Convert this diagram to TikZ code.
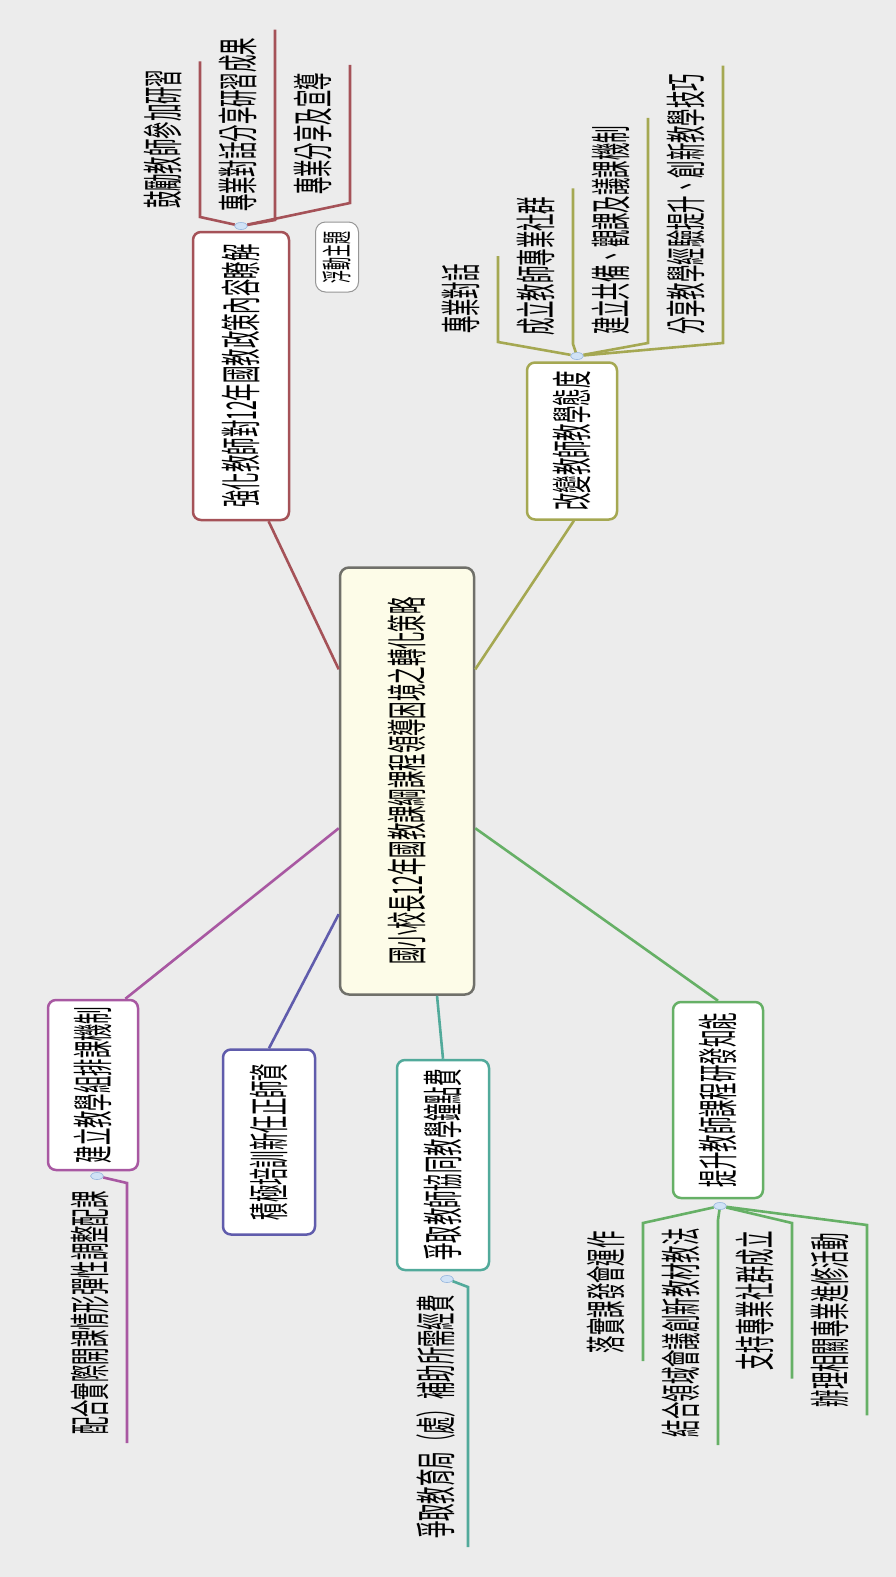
\documentclass[tikz,border=0pt]{standalone}
\usepackage{graphicx}
\usepackage{fontspec}
\setmainfont{Noto Sans CJK TC}
\usetikzlibrary{calc,shapes.geometric}

\definecolor{bgcol}{RGB}{236,236,236}
\definecolor{rootline}{RGB}{112,112,106}
\definecolor{rootfill}{RGB}{253,252,232}
\definecolor{redbr}{RGB}{165,82,88}
\definecolor{olivebr}{RGB}{165,168,82}
\definecolor{purplebr}{RGB}{168,88,162}
\definecolor{bluebr}{RGB}{96,92,172}
\definecolor{tealbr}{RGB}{82,170,155}
\definecolor{greenbr}{RGB}{102,176,102}
\definecolor{knobfill}{RGB}{208,226,246}
\definecolor{knobline}{RGB}{150,182,222}
\definecolor{floatline}{RGB}{150,150,150}

% stretched text, as in the reference
\newcommand{\st}[1]{\scalebox{1}[2.35]{#1}}

\tikzset{
  every node/.style={font=\fontsize{17.4}{20}\selectfont},
  root/.style={draw=rootline, line width=2.5pt, fill=rootfill, rounded corners=9pt,
    rotate=90, minimum width=427pt, minimum height=134pt},
  topic/.style={draw=#1, line width=2.5pt, fill=white, rounded corners=8pt, rotate=90},
  floatbox/.style={draw=floatline, line width=1pt, fill=white, rounded corners=10pt,
    rotate=90, minimum width=70pt, minimum height=43pt, font=\fontsize{13}{15}\selectfont},
  sub/.style={rotate=90, inner xsep=8pt, inner ysep=18pt},
  link/.style={draw=#1, line width=2.6pt},
  knob/.style={ellipse, draw=knobline, fill=knobfill, line width=0.6pt,
    minimum width=13pt, minimum height=7pt, inner sep=0pt},
}

\begin{document}
\begin{tikzpicture}[x=1pt,y=-1pt]
\useasboundingbox (0,0) rectangle (896,1577);
\fill[bgcol] (0,0) rectangle (896,1577);

% central topic
\node[root] (ctr) at (407,781) {\st{國小校長12年國教課綱課程領導困境之轉化策略}};

% main topics
\node[topic=redbr, minimum width=288pt, minimum height=96pt] (b1) at (241,376) {\st{強化教師對12年國教政策內容瞭解}};
\node[topic=olivebr, minimum width=157pt, minimum height=90pt] (b2) at (572,441) {\st{改變教師教學態度}};
\node[topic=purplebr, minimum width=170pt, minimum height=90pt] (b3) at (93,1085) {\st{建立教學組排課機制}};
\node[topic=bluebr, minimum width=185pt, minimum height=92pt] (b4) at (269,1142) {\st{積極培訓新任正師資}};
\node[topic=tealbr, minimum width=210pt, minimum height=92pt] (b5) at (443,1165) {\st{爭取教師協同教學鐘點費}};
\node[topic=greenbr, minimum width=196pt, minimum height=90pt] (b6) at (718,1100) {\st{提升教師課程研發知能}};
\node[floatbox] (fl) at (337,257) {\st{浮動主題}};

% links from the centre
\draw[link=redbr] ($(ctr.north east)!0.24!(ctr.north west)$) -- ($(b1.north west)!0.78!(b1.south west)$);
\draw[link=olivebr] ($(ctr.south east)!0.24!(ctr.south west)$) -- ($(b2.north west)!0.52!(b2.south west)$);
\draw[link=purplebr] ($(ctr.north east)!0.61!(ctr.north west)$) -- ($(b3.north east)!0.85!(b3.south east)$);
\draw[link=bluebr] ($(ctr.north east)!0.81!(ctr.north west)$) -- (b4.east);
\draw[link=tealbr] ($(ctr.north west)!0.72!(ctr.south west)$) -- (b5.east);
\draw[link=greenbr] ($(ctr.south east)!0.61!(ctr.south west)$) -- (b6.east);

% subtopics, upper side
\node[sub, anchor=south west] (s11) at (200,217) {\st{鼓勵教師參加研習}};
\node[sub, anchor=south west] (s12) at (275,220) {\st{專業對話分享研習成果}};
\node[sub, anchor=south west] (s13) at (350,203) {\st{專業分享及宣導}};
\node[sub, anchor=south west] (s21) at (498,342) {\st{專業對話}};
\node[sub, anchor=south west] (s22) at (573,344) {\st{成立教師專業社群}};
\node[sub, anchor=south west] (s23) at (648,343) {\st{建立共備、觀課及議課機制}};
\node[sub, anchor=south west] (s24) at (723,343) {\st{分享教學經驗提升、創新教學技巧}};

% subtopics, lower side
\node[sub, anchor=south east] (s31) at (127,1183) {\st{配合實際開課情形彈性調整配課}};
\node[sub, anchor=south east, inner ysep=12pt] (s51) at (468,1287) {\st{爭取教育局（處）補助所需經費}};
\node[sub, anchor=south east] (s61) at (643,1223) {\st{落實課發會運作}};
\node[sub, anchor=south east] (s62) at (718,1220) {\st{結合領域會議創新教材教法}};
\node[sub, anchor=south east] (s63) at (792,1223) {\st{支持專業社群成立}};
\node[sub, anchor=south east] (s64) at (867,1225) {\st{辦理相關專業進修活動}};

% knobs
\node[knob] (k1) at (241,226) {};
\node[knob] (k2) at (577,356) {};
\node[knob] (k3) at (97,1176) {};
\node[knob] (k5) at (447,1279) {};
\node[knob] (k6) at (720,1206) {};

% subtopic lines
\draw[link=redbr] (k1) -- (s11.south west) -- (s11.south east);
\draw[link=redbr] (k1) -- (s12.south west) -- (s12.south east);
\draw[link=redbr] (k1) -- (s13.south west) -- (s13.south east);
\draw[link=olivebr] (k2) -- (s21.south west) -- (s21.south east);
\draw[link=olivebr] (k2) -- (s22.south west) -- (s22.south east);
\draw[link=olivebr] (k2) -- (s23.south west) -- (s23.south east);
\draw[link=olivebr] (k2) -- (s24.south west) -- (s24.south east);
\draw[link=purplebr] (k3) -- (s31.south east) -- (s31.south west);
\draw[link=tealbr] (k5) -- (s51.south east) -- (s51.south west);
\draw[link=greenbr] (k6) -- (s61.south east) -- (s61.south west);
\draw[link=greenbr] (k6) -- (s62.south east) -- (s62.south west);
\draw[link=greenbr] (k6) -- (s63.south east) -- (s63.south west);
\draw[link=greenbr] (k6) -- (s64.south east) -- (s64.south west);
\end{tikzpicture}
\end{document}
